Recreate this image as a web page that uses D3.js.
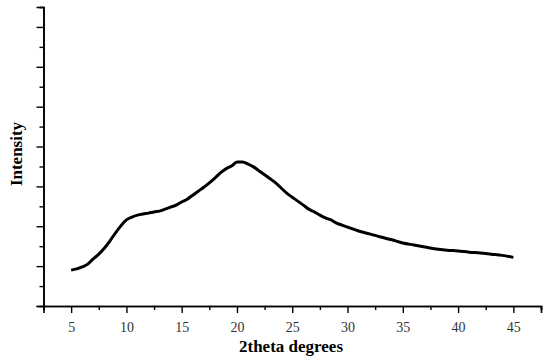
<!DOCTYPE html>
<html>
<head>
<meta charset="utf-8">
<script src="https://cdn.jsdelivr.net/npm/d3@7"></script>
<style>
  body { margin: 0; background: #fff; }
  svg { display: block; }
  svg text { font-family: "Liberation Serif", "Times New Roman", Times, serif !important; }
</style>
</head>
<body>
<script>
// XRD pattern, arbitrary intensity units
var twoTheta = [5, 5.5, 6, 6.5, 7, 7.5, 8, 8.5, 9, 9.5, 10, 10.5, 11, 11.5, 12, 12.5, 13, 13.5, 14, 14.5,
  15, 15.5, 16, 16.5, 17, 17.5, 18, 18.5, 19, 19.5, 20, 20.5, 21, 21.5, 22, 22.5, 23, 23.5, 24, 24.5,
  25, 25.5, 26, 26.5, 27, 27.5, 28, 28.5, 29, 29.5, 30, 31, 32, 33, 34, 35, 36, 37, 38, 39,
  40, 41, 42, 43, 44, 45];
var intensity = [0.90, 0.93, 0.98, 1.05, 1.18, 1.30, 1.45, 1.63, 1.83, 2.01, 2.16, 2.23, 2.28, 2.31, 2.33, 2.36, 2.38, 2.43, 2.48, 2.53,
  2.61, 2.68, 2.78, 2.88, 2.98, 3.09, 3.21, 3.34, 3.44, 3.51, 3.61, 3.61, 3.56, 3.49, 3.39, 3.29, 3.19, 3.09, 2.96, 2.83,
  2.73, 2.63, 2.53, 2.43, 2.36, 2.28, 2.21, 2.16, 2.08, 2.03, 1.98, 1.88, 1.81, 1.73, 1.66, 1.58, 1.53, 1.48, 1.43, 1.40,
  1.38, 1.35, 1.33, 1.30, 1.27, 1.22];
var xMajor = [5, 10, 15, 20, 25, 30, 35, 40, 45];
var xMinor = [2.5, 7.5, 12.5, 17.5, 22.5, 27.5, 32.5, 37.5, 42.5, 47.5];
var yMajor = [0, 1, 2, 3, 4, 5, 6, 7];
var yMinor = [0.5, 1.5, 2.5, 3.5, 4.5, 5.5, 6.5, 7.5];

var serif = 'Liberation Serif';
var width = 550, height = 359;
var margin = {left: 43.5, right: 9, top: 7, bottom: 53};

var svg = d3.select('body').append('svg').attr('width', width).attr('height', height);

var x = d3.scaleLinear().domain([2.5, 47.5]).range([margin.left, width - margin.right]);
var y = d3.scaleLinear().domain([0, 7.5]).range([height - margin.bottom, margin.top]);

var data = twoTheta.map(function(d, i){ return {x: d, y: intensity[i]}; });

// curve
svg.append('path')
  .datum(data)
  .attr('fill', 'none')
  .attr('stroke', '#000')
  .attr('stroke-width', 3)
  .attr('stroke-linejoin', 'round')
  .attr('d', d3.line().x(function(d){ return x(d.x); }).y(function(d){ return y(d.y); }).curve(d3.curveMonotoneX));

// x axis
var gx = svg.append('g').attr('transform', 'translate(0,' + y(0) + ')');
gx.call(d3.axisBottom(x).tickValues(xMinor).tickSize(4).tickFormat(''));
gx.append('g').call(d3.axisBottom(x).tickValues(xMajor).tickSize(7).tickPadding(9).tickFormat(d3.format('d')))
  .attr('font-family', serif)
  .attr('font-size', 14);

// y axis, no labels
var gy = svg.append('g').attr('transform', 'translate(' + margin.left + ',0)');
gy.call(d3.axisLeft(y).tickValues(yMinor).tickSize(4).tickFormat(''));
gy.append('g').call(d3.axisLeft(y).tickValues(yMajor).tickSize(7).tickFormat(''));

svg.selectAll('.domain').attr('stroke-width', 1.6).attr('stroke', '#000');
svg.selectAll('.tick line').attr('stroke-width', 1.4).attr('stroke', '#000');
svg.selectAll('.tick text').attr('font-family', serif).attr('fill', '#333');

// axis titles
svg.append('text')
  .attr('x', 291)
  .attr('y', 352)
  .attr('text-anchor', 'middle')
  .attr('font-family', serif)
  .attr('font-weight', 'bold')
  .attr('font-size', 17)
  .text('2theta degrees');

svg.append('text')
  .attr('transform', 'translate(22,154) rotate(-90)')
  .attr('text-anchor', 'middle')
  .attr('font-family', serif)
  .attr('font-weight', 'bold')
  .attr('font-size', 17)
  .text('Intensity');
</script>
</body>
</html>
